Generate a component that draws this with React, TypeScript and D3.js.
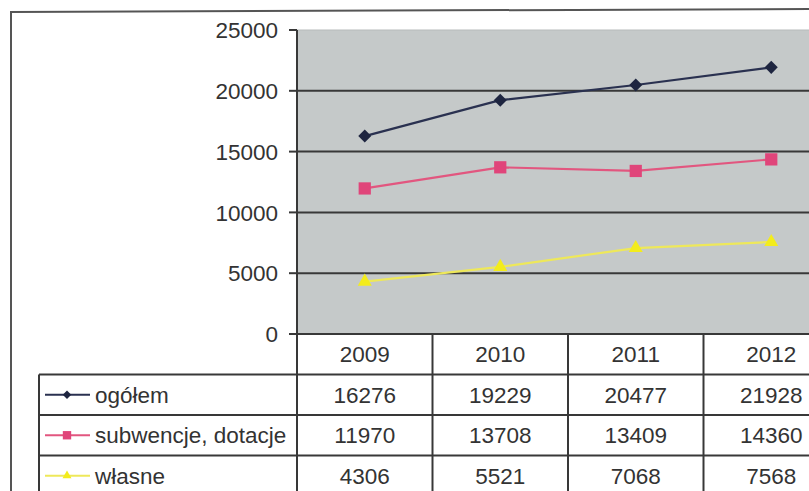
import React from "react";
import * as d3 from "d3";

const years = ["2009", "2010", "2011", "2012"];
const seriesNames = ["ogółem", "subwencje, dotacje", "własne"];
const ogolem = [16276, 19229, 20477, 21928];
const subwencje = [11970, 13708, 13409, 14360];
const wlasne = [4306, 5521, 7068, 7568];
const yTicks = [0, 5000, 10000, 15000, 20000, 25000];

const W = 809;
const H = 491;
const FONT = "'Liberation Sans', Arial, sans-serif";
const TXT = "#333";
const GRID = "#383838";
const FS = 22.5;

const seriesStyle = [
  { values: ogolem, line: "#2a3150", fill: "#1e2540", symbol: d3.symbolSquare, rot: 45, size: 85, lsize: 36 },
  { values: subwencje, line: "#e2567f", fill: "#e0457a", symbol: d3.symbolSquare, rot: 0, size: 150, lsize: 70 },
  { values: wlasne, line: "#eee85a", fill: "#f3ec1c", symbol: d3.symbolTriangle, rot: 0, size: 85, lsize: 35 },
];

export default function App() {
  const plotLeft = 297;
  const plotRight = 839;
  const x = d3.scaleBand<string>().domain(years).range([plotLeft, plotRight]).paddingInner(0).paddingOuter(0);
  const bw = x.bandwidth();
  const cx = (yr: string) => (x(yr) as number) + bw / 2;
  const y = d3.scaleLinear().domain([0, 25000]).range([334, 30]);

  const rowKeys = ["years", ...seriesNames];
  const rows = d3.scaleBand<string>().domain(rowKeys).range([334, 334 + 4 * 40.5]);
  const rh = rows.bandwidth();
  const legendLeft = 39;

  const line = d3
    .line<number>()
    .x((_, i) => cx(years[i]))
    .y((v) => y(v));

  return (
    <svg
      width={W}
      height={H}
      style={{ position: "absolute", left: 0, top: 0, background: "#fff" }}
      fontFamily={FONT}
    >
      <rect x={0} y={0} width={W} height={H} fill="#fff" />
      {/* outer chart frame */}
      <line x1={11} y1={12} x2={W} y2={9} stroke="#555" strokeWidth={2} />
      <line x1={11} y1={11} x2={11} y2={H} stroke="#555" strokeWidth={2} />

      {/* plot area */}
      <rect x={plotLeft} y={y(25000)} width={plotRight - plotLeft} height={y(0) - y(25000)} fill="#c5c9c9" stroke="#b8bcbc" strokeWidth={1} />

      {/* gridlines + ticks */}
      {yTicks.map((t) => (
        <g key={t}>
          {t < 25000 ? <line x1={plotLeft} x2={W} y1={y(t)} y2={y(t)} stroke={GRID} strokeWidth={2} /> : null}
          <line x1={289} x2={plotLeft} y1={y(t)} y2={y(t)} stroke={GRID} strokeWidth={2} />
          <text x={278} y={y(t)} dy="0.36em" textAnchor="end" fontSize={FS} fill={TXT}>
            {t}
          </text>
        </g>
      ))}
      {/* value axis line continuing into the table */}
      <line x1={plotLeft} x2={plotLeft} y1={y(25000)} y2={H} stroke={GRID} strokeWidth={2} />

      {/* series lines and markers */}
      {seriesStyle.map((s, si) => (
        <g key={si}>
          <path d={line(s.values) || ""} fill="none" stroke={s.line} strokeWidth={2.2} />
          {s.values.map((v, i) => (
            <path
              key={i}
              d={d3.symbol().type(s.symbol).size(s.size)() || ""}
              transform={`translate(${cx(years[i])},${y(v)}) rotate(${s.rot})`}
              fill={s.fill}
            />
          ))}
        </g>
      ))}

      {/* data table */}
      {years.map((yr) => (
        <g key={yr}>
          <line x1={(x(yr) as number) + bw} x2={(x(yr) as number) + bw} y1={y(0)} y2={H} stroke={GRID} strokeWidth={2} />
          <text x={cx(yr)} y={(rows("years") as number) + rh / 2} dy="0.36em" textAnchor="middle" fontSize={FS} fill={TXT}>
            {yr}
          </text>
        </g>
      ))}
      {seriesNames.map((name, si) => {
        const top = rows(name) as number;
        const mid = top + rh / 2;
        const s = seriesStyle[si];
        return (
          <g key={name}>
            <line x1={legendLeft} x2={W} y1={top} y2={top} stroke={GRID} strokeWidth={2} />
            <line x1={45} x2={90} y1={mid} y2={mid} stroke={s.line} strokeWidth={2} />
            <path
              d={d3.symbol().type(s.symbol).size(s.lsize)() || ""}
              transform={`translate(67,${mid}) rotate(${s.rot})`}
              fill={s.fill}
            />
            <text x={95} y={mid} dy="0.36em" fontSize={FS} fill={TXT}>
              {name}
            </text>
            {s.values.map((v, i) => (
              <text key={i} x={cx(years[i])} y={mid} dy="0.36em" textAnchor="middle" fontSize={FS} fill={TXT}>
                {v}
              </text>
            ))}
          </g>
        );
      })}
      <line x1={legendLeft} x2={legendLeft} y1={rows(seriesNames[0]) as number} y2={H} stroke={GRID} strokeWidth={2} />
    </svg>
  );
}
